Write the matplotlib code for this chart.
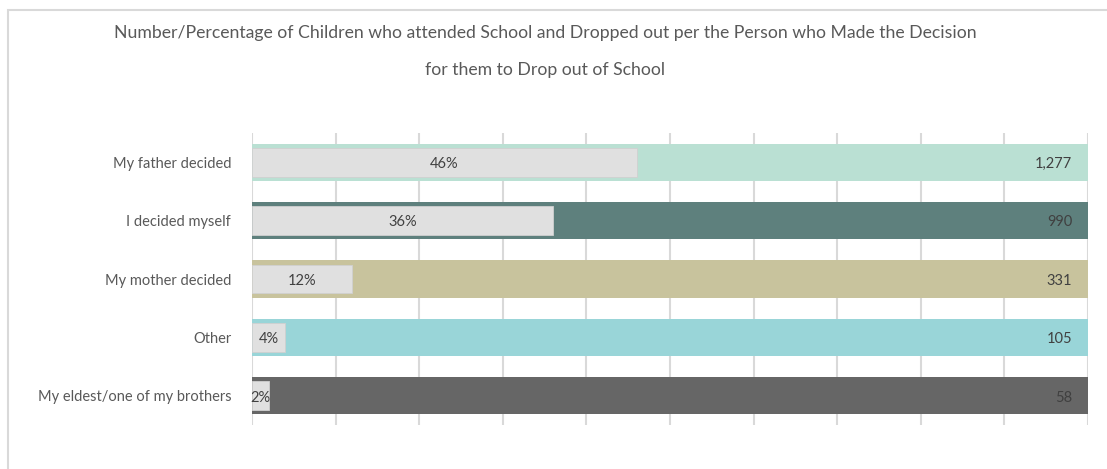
import matplotlib
matplotlib.use("Agg")
import matplotlib.pyplot as plt
from matplotlib.patches import Rectangle

categories = ["My father decided", "I decided myself", "My mother decided", "Other",
              "My eldest/one of my brothers"]
counts = [1277, 990, 331, 105, 58]
percents = [46, 36, 12, 4, 2]
bar_colors = ["#BAE0D3", "#5E807D", "#C8C39D", "#99D5D8", "#666666"]
title = ("Number/Percentage of Children who attended School and Dropped out per the Person who Made the Decision\n"
         "for them to Drop out of School")

plt.rcParams['font.family'] = ['Lato', 'DejaVu Sans']

W, H = 1107, 469
fig = plt.figure(figsize=(W / 100, H / 100), dpi=100)
fig.patch.set_facecolor("white")

# chart frame
fig.patches.append(Rectangle((8 / W, -0.1), 1.2, 1 - 10 / H + 0.1, transform=fig.transFigure,
                             fill=False, edgecolor="#D9D9D9", linewidth=1.5))

ax = fig.add_axes([252 / W, 1 - 425 / H, (1088 - 252) / W, (425 - 133) / H])
ax.set_xlim(0, 100)
ax.set_ylim(len(categories) - 0.5, -0.5)
ys = list(range(len(categories)))

ax.set_xticks(range(0, 101, 10))
ax.grid(axis="x", color="#D9D9D9", linewidth=1.5, zorder=0)
ax.tick_params(axis="x", length=0, labelbottom=False)
ax.tick_params(axis="y", length=0, pad=15, labelsize=10.5, labelcolor="#595959")
for s in ax.spines.values():
    s.set_visible(False)

ax.barh(ys, [100] * len(ys), height=0.64, color=bar_colors, zorder=2)
ax.barh(ys, percents, height=0.49, color="#E0E0E0", edgecolor="#D0D0D0", linewidth=0.6, zorder=3)

ax.set_yticks(ys)
ax.set_yticklabels(categories)

for y, p, c in zip(ys, percents, counts):
    ax.text(p / 2 if p > 3 else 1.0, y + 0.03, f"{p}%", ha="center", va="center", fontsize=10.5,
            color="#404040", zorder=4)
    ax.text(98.1, y + 0.03, f"{c:,}", ha="right", va="center", fontsize=10.5, color="#404040", zorder=4)

fig.text(545 / W, 1 - 33 / H, title.split("\n")[0], ha="center", va="center", fontsize=12.7,
         color="#595959")
fig.text(545 / W, 1 - 70 / H, title.split("\n")[1], ha="center", va="center", fontsize=12.7,
         color="#595959")

fig.savefig("out.png", dpi=100)
